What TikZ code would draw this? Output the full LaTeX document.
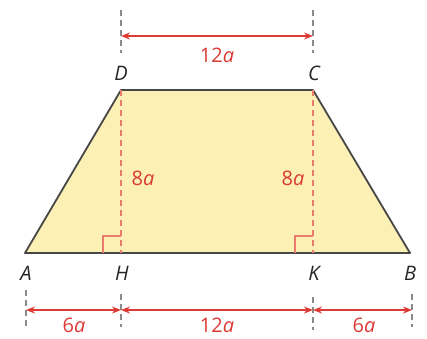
\documentclass[tikz,border=0pt]{standalone}
\usepackage{fontspec}
\setmainfont{Open Sans}
\usetikzlibrary{arrows.meta, calc}
\definecolor{dimred}{HTML}{DC3A34}
\definecolor{altred}{HTML}{EC7B6E}
\definecolor{trapfill}{HTML}{FDF0B4}
\definecolor{edgegray}{HTML}{474747}
\definecolor{extgray}{HTML}{8A8A8A}
\tikzset{
  vertexlabel/.style={font=\fontsize{20}{24}\selectfont\itshape, text=black!85, inner sep=0pt},
  dimlabel/.style={font=\fontsize{20}{24}\selectfont, text=dimred, inner sep=0pt},
  dimline/.style={dimred, line width=1.3pt, {Stealth[length=9pt,width=7pt]}-{Stealth[length=9pt,width=7pt]}},
  extline/.style={extgray, line width=1.4pt, dash pattern=on 6pt off 4pt},
  heightline/.style={altred, line width=1.3pt, dash pattern=on 6pt off 4pt},
  rightmark/.style={altred, line width=1.3pt},
}
\begin{document}
\begin{tikzpicture}[x=1pt, y=-1pt]
  \useasboundingbox (0,0) rectangle (427,338);
  % corners of the trapezoid
  \coordinate (A) at (25,253);
  \coordinate (B) at (410,253);
  \coordinate (C) at (313,90);
  \coordinate (D) at (121,90);
  \coordinate (H) at (121,253);
  \coordinate (K) at (313,253);
  \filldraw[fill=trapfill, draw=edgegray, line width=1.8pt, line join=round] (A) -- (B) -- (C) -- (D) -- cycle;
  % heights and right angles
  \draw[heightline] (D) -- (H);
  \draw[heightline] (C) -- (K);
  \draw[rightmark] ($(H)+(-18,0)$) |- ($(H)+(0,-17)$);
  \draw[rightmark] ($(K)+(-18,0)$) |- ($(K)+(0,-17)$);
  \node[dimlabel] (hl) at (143,178) {8\textit{a}};
  \node[dimlabel] (hr) at (293,178) {8\textit{a}};
  % vertex labels
  \node[vertexlabel] (lblD) at (121,73) {D};
  \node[vertexlabel] (lblC) at (314,73) {C};
  \node[vertexlabel] (lblA) at (26,273) {A};
  \node[vertexlabel] (lblH) at (122,273) {H};
  \node[vertexlabel] (lblK) at (314,273) {K};
  \node[vertexlabel] (lblB) at (410,273) {B};
  % top dimension
  \coordinate (tD1) at (121,10); \coordinate (tD2) at (121,53);
  \coordinate (tC1) at (313,10); \coordinate (tC2) at (313,53);
  \draw[extline] (tD1) -- (tD2);
  \draw[extline] (tC1) -- (tC2);
  \draw[dimline] (121,36) -- (313,36);
  \node[dimlabel] (top) at (217,55) {12\textit{a}};
  % bottom dimensions
  \coordinate (bA1) at (26,290); \coordinate (bA2) at (26,327);
  \coordinate (bH1) at (121,294); \coordinate (bH2) at (121,327);
  \coordinate (bK1) at (313,297); \coordinate (bK2) at (313,330);
  \coordinate (bB1) at (412,294); \coordinate (bB2) at (412,327);
  \foreach \p in {A,H,K,B}{\draw[extline] (b\p1) -- (b\p2);}
  \draw[dimline] (26,310) -- (121,310);
  \draw[dimline] (121,310) -- (313,310);
  \draw[dimline] (313,310) -- (412,310);
  \node[dimlabel] (bl) at (74,325) {6\textit{a}};
  \node[dimlabel] (bm) at (217,325) {12\textit{a}};
  \node[dimlabel] (br) at (364,325) {6\textit{a}};
\end{tikzpicture}
\end{document}
